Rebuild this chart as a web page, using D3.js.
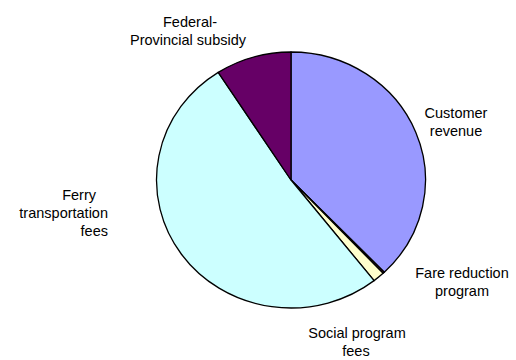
<!DOCTYPE html>
<html>
<head>
<meta charset="utf-8">
<script src="https://cdn.jsdelivr.net/npm/d3@7"></script>
<style>
  body { margin: 0; background: #fff; }
  text { font-family: "Liberation Sans", Arial, sans-serif; font-size: 14.5px; fill: #000; }
</style>
</head>
<body>
<script>
var width = 516;
var height = 360;

// data (% of total)
var categories = ["Customer revenue", "Fare reduction program", "Social program fees",
                  "Ferry transportation fees", "Federal-Provincial subsidy"];
var values = [37.8, 0.2, 1.4, 51.5, 9.1];
var colors = ["#9999FF", "#993366", "#FFFFCC", "#CCFFFF", "#660066"];

// label lines as they wrap in the chart
var labelLines = [
    ["Customer", "revenue"],
    ["Fare reduction", "program"],
    ["Social program", "fees"],
    ["Ferry", "transportation", "fees"],
    ["Federal-", "Provincial subsidy"]
];

// label layout (x, first baseline, anchor, per-line x shift)
var labelLayout = [
    {x: 456, y: 118, anchor: "middle", shift: [0, 0]},
    {x: 462, y: 278, anchor: "middle", shift: [0, 0]},
    {x: 357, y: 338, anchor: "middle", shift: [0, -1]},
    {x: 108, y: 200, anchor: "end", shift: [-12, 0, 0]},
    {x: 188, y: 27, anchor: "middle", shift: [2, 0]}
];

var lineHeight = 18;

var svg = d3.select("body").append("svg")
    .attr("width", width)
    .attr("height", height);

// pie is drawn slightly wider than tall, as in the original
var cx = 291, cy = 180;
var ry = 128, rx = 134.5;

var pie = d3.pie().sort(null).value(function(d) { return d; });
var arc = d3.arc().innerRadius(0).outerRadius(ry);

var g = svg.append("g")
    .attr("transform", "translate(" + cx + "," + cy + ") scale(" + (rx / ry) + ",1)");

g.selectAll("path")
    .data(pie(values))
    .enter()
    .append("path")
    .attr("d", arc)
    .attr("fill", function(d, i) { return colors[i]; })
    .attr("stroke", "#000")
    .attr("stroke-width", 1.3)
    .attr("stroke-linejoin", "round")
    .attr("vector-effect", "non-scaling-stroke");

// labels
var labels = svg.selectAll("text.label")
    .data(categories)
    .enter()
    .append("text")
    .attr("class", "label")
    .attr("text-anchor", function(d, i) { return labelLayout[i].anchor; });

labels.each(function(d, i) {
    var lay = labelLayout[i];
    d3.select(this).selectAll("tspan")
        .data(labelLines[i])
        .enter()
        .append("tspan")
        .attr("x", function(t, j) { return lay.x + (lay.shift[j] || 0); })
        .attr("y", function(t, j) { return lay.y + j * lineHeight; })
        .text(function(t) { return t; });
});
</script>
</body>
</html>
